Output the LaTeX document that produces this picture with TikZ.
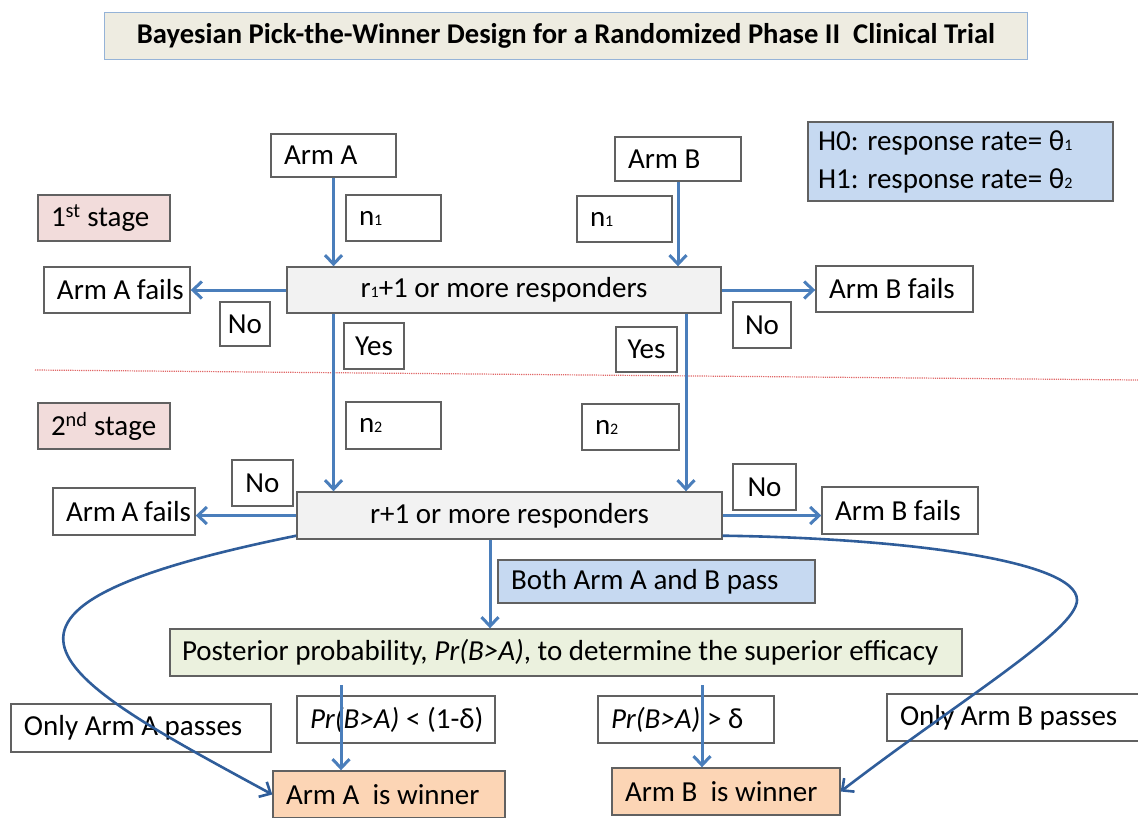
\documentclass[tikz,border=0pt]{standalone}
\usepackage{fontspec}
\setmainfont{Carlito}
\usetikzlibrary{arrows.meta,calc,positioning}
\definecolor{flowblue}{HTML}{4A7EBB}
\definecolor{curveblue}{HTML}{2F5D9A}
\definecolor{titlefill}{HTML}{EEECE1}
\definecolor{titleline}{HTML}{95B3D7}
\definecolor{hypfill}{HTML}{C6D9F1}
\definecolor{stagefill}{HTML}{F2DCDB}
\definecolor{testfill}{HTML}{F2F2F2}
\definecolor{postfill}{HTML}{EBF1DE}
\definecolor{winfill}{HTML}{FCD5B5}
\definecolor{cutline}{HTML}{E06868}
\newcommand{\lowsub}[1]{{\fontsize{16}{16}\selectfont #1}}
\tikzset{>={Straight Barb[length=9pt,width=17pt]}}
\tikzset{box/.style={draw=black!62, line width=1.4pt, fill=white, inner xsep=11pt, inner ysep=0pt, minimum height=46pt, font=\fontsize{29}{33}\selectfont}}
\tikzset{lbox/.style={box, align=left, inner xsep=4pt, execute at begin node={\spaceskip=0pt\xspaceskip=0pt\hspace*{#1}}}, lbox/.default=9pt}
\tikzset{flow/.style={->, draw=flowblue, line width=3pt}}
\tikzset{bendflow/.style={->, draw=curveblue, line width=2.6pt}}

\begin{document}
\begin{tikzpicture}[x=1pt,y=-1pt]
      \useasboundingbox (0,0) rectangle (1138,817);
      \node[box, draw=titleline, fill=titlefill, minimum width=923pt, minimum height=47pt, font=\fontsize{28.6}{33}\selectfont\bfseries] (title) at (566,36) {Bayesian Pick-the-Winner Design for a Randomized Phase II\ \ Clinical Trial};
      % first stage
      \node[lbox, minimum height=43pt, text width=117pt] (armA) at (333.5,155.5) {Arm A};
      \node[lbox, minimum height=44pt, text width=118pt] (armB) at (678,159) {Arm B};
      \node[lbox=6pt, fill=hypfill, minimum height=79pt, text width=297pt, font=\fontsize{29}{38}\selectfont] (hyp) at (960.5,161.5) {H0: response rate= θ\lowsub{1}\\\hspace*{6pt}H1: response rate= θ\lowsub{2}};
      \node[lbox, fill=stagefill, text width=124pt] (stage1) at (104,218) {1\textsuperscript{st} stage};
      \node[lbox, text width=87pt] (n1A) at (393.5,218) {n\lowsub{1}};
      \node[lbox, text width=87pt] (n1B) at (624.5,219) {n\lowsub{1}};
      \node[box, fill=testfill, minimum width=434pt] (test1) at (504,290) {r\lowsub{1}+1 or more responders};
      \node[lbox, text width=138pt] (failA1) at (117,290) {Arm A fails};
      \node[lbox, text width=149pt] (failB1) at (894.5,289) {Arm B fails};
      \node[box, minimum width=50pt, minimum height=44pt, inner xsep=2pt] (noA1) at (245,324) {No};
      \node[box, minimum width=60pt, inner xsep=2pt] (yesA) at (374,346) {Yes};
      \node[box, minimum width=58pt, inner xsep=2pt] (noB1) at (762,325) {No};
      \node[box, minimum width=61pt, minimum height=45pt, inner xsep=2pt] (yesB) at (646.5,349.5) {Yes};
      \draw[cutline, densely dotted, line width=1.2pt] (35,370) -- (1138,380);
      % second stage
      \node[lbox, fill=stagefill, text width=124pt] (stage2) at (104,426) {2\textsuperscript{nd} stage};
      \node[lbox, minimum height=47pt, text width=87pt] (n2A) at (393.5,425.5) {n\lowsub{2}};
      \node[lbox, text width=89pt] (n2B) at (630.5,427) {n\lowsub{2}};
      \node[box, minimum width=61pt, inner xsep=2pt] (noA2) at (262.5,483) {No};
      \node[lbox, minimum height=47pt, text width=134pt] (failA2) at (124,511.5) {Arm A fails};
      \node[box, fill=testfill, minimum width=425pt, minimum height=47pt] (test2) at (509.5,515.5) {r+1 or more responders};
      \node[box, minimum width=63pt, inner xsep=2pt] (noB2) at (764.5,487) {No};
      \node[lbox, minimum height=47pt, text width=148pt] (failB2) at (900,510.5) {Arm B fails};
      \node[lbox, fill=hypfill, minimum height=43pt, text width=309pt] (both) at (656.5,581.5) {Both Arm A and B pass};
      \node[lbox=8pt, fill=postfill, minimum height=47pt, text width=784pt] (post) at (566,652.5) {Posterior probability, \textit{Pr(B>A)}, to determine the superior efficacy};
      \node[lbox, minimum height=47pt, text width=190pt] (prA) at (396,719.5) {\textit{Pr(B>A)} < (1-δ)};
      \node[lbox, minimum height=47pt, text width=168pt] (prB) at (686,719.5) {\textit{Pr(B>A)} > δ};
      \node[lbox, minimum height=48pt, text width=252pt] (onlyA) at (141,728) {Only Arm A passes};
      \node[lbox, minimum height=47pt, text width=250pt] (onlyB) at (1016,717.5) {Only Arm B passes};
      \node[lbox, fill=winfill, minimum height=47pt, text width=224pt] (winA) at (389,794.5) {Arm A\ \ is winner};
      \node[lbox, fill=winfill, minimum height=47pt, text width=220pt] (winB) at (726,791.5) {Arm B\ \ is winner};
      % connectors
      \coordinate (colB) at (686,0);
      \coordinate (colM) at (490,0);
      \coordinate (colA) at (341,685);
      \coordinate (colW) at (702,685);
      \draw[flow] (armA.south) -- (armA.south |- test1.north);
      \draw[flow] (armB.south) -- (armB.south |- test1.north);
      \draw[flow] (test1.west) -- (test1.west -| failA1.east);
      \draw[flow] (test1.east) -- (test1.east -| failB1.west);
      \draw[flow] (armA.south |- test1.south) -- (armA.south |- test2.north);
      \draw[flow] (colB |- test1.south) -- (colB |- test2.north);
      \draw[flow] (test2.west) -- (test2.west -| failA2.east);
      \draw[flow] (test2.east) -- (test2.east -| failB2.west);
      \draw[flow] (colM |- test2.south) -- (colM |- post.north);
      \draw[flow] (colA) -- (colA |- winA.north);
      \draw[flow] (colW) -- (colW |- winB.north);
      \draw[bendflow] ([yshift=4pt]test2.south west) .. controls (-70,610) and (54,676) .. (winA.west);
      \draw[bendflow] ([yshift=4pt]test2.south east) .. controls (900,538) and (1077,560) .. (1077,600) .. controls (1077,630) and (960,700) .. (winB.east);
    \end{tikzpicture}
\end{document}
